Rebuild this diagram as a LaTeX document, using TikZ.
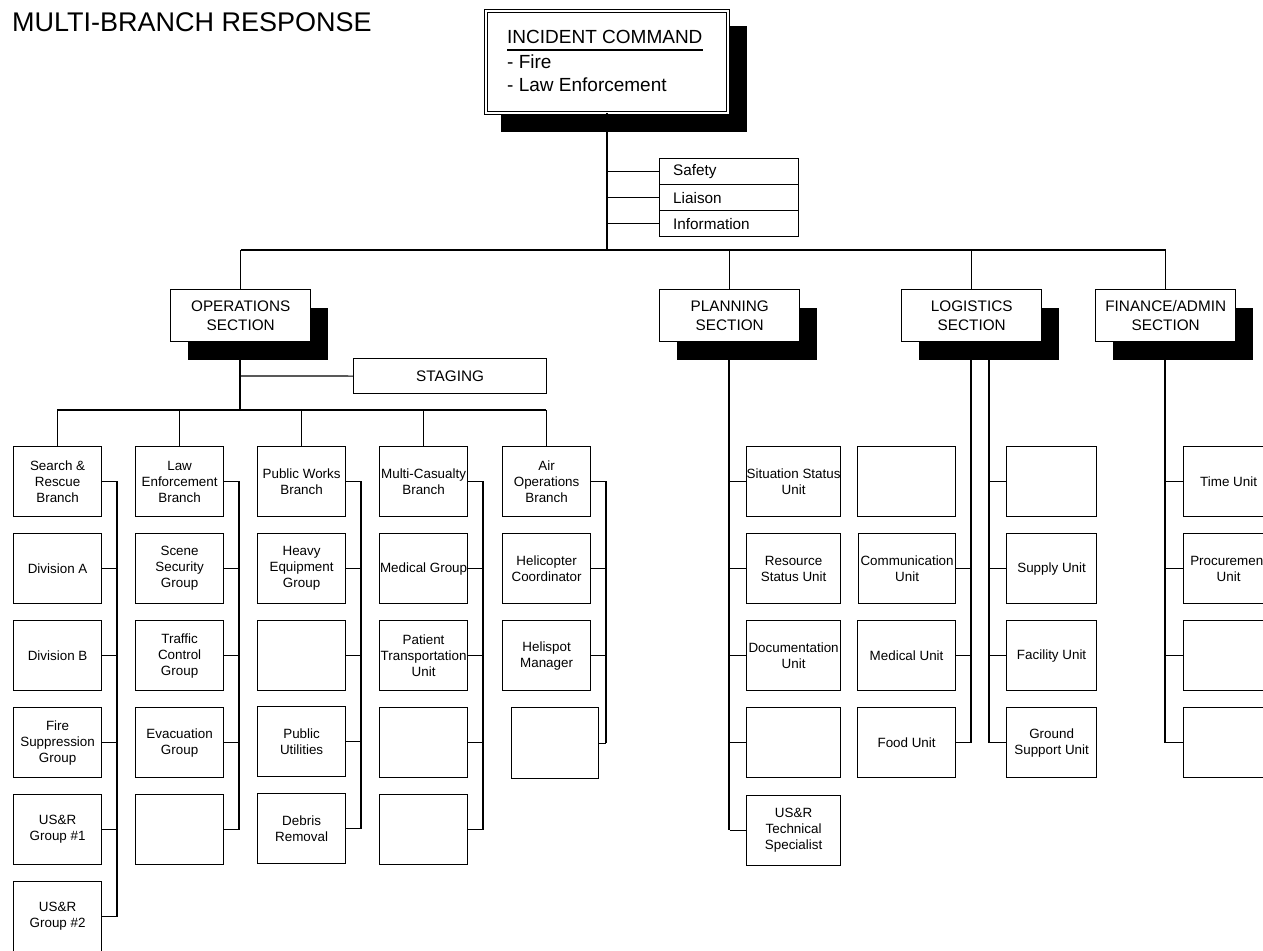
\documentclass[tikz,border=0pt]{standalone}
\usepackage{fontspec}
\setmainfont{Liberation Sans}
\usetikzlibrary{shadows}

% font sizes (1pt = 1 unit of the page)
\newcommand\fsbox{\fontsize{13.4pt}{16pt}\selectfont}
\newcommand\fssec{\fontsize{15.3pt}{19pt}\selectfont}
\newcommand\fsic{\fontsize{19pt}{23pt}\selectfont}
\newcommand\fstitle{\fontsize{27pt}{32pt}\selectfont}

\tikzset{
  thinline/.style={line width=1.2pt},
  thickline/.style={line width=2pt},
  unitbox/.style={draw, line width=1.2pt, fill=white, inner sep=0pt, anchor=north west},
  unittext/.style={font=\fsbox, align=center, inner sep=0pt},
  staffbox/.style={draw, line width=1.2pt, fill=white, inner sep=0pt, anchor=north west,
    minimum width=139pt, minimum height=26pt},
  stafftext/.style={font=\fssec, inner sep=0pt, anchor=west},
  sectionbox/.style={draw, line width=1.4pt, fill=white, inner sep=0pt, anchor=north west,
    minimum width=140pt, minimum height=52pt, align=center, font=\fssec,
    drop shadow={shadow xshift=17pt, shadow yshift=-18pt, opacity=1, fill=black}},
}

% box with a fixed size and centred text: name, left, top, width, height, text
\newcommand\orgbox[6]{%
  \node[unitbox, minimum width=#4pt, minimum height=#5pt] (#1) at (#2,#3) {};
  \node[unittext] (#1-t) at (#1.center) {#6};}

\begin{document}
\begin{tikzpicture}[x=1pt, y=-1pt]
\useasboundingbox (0,0) rectangle (1263,950);
\clip (0,0) rectangle (1263,950);

\node[anchor=base west, font=\fstitle, inner sep=0pt] (title) at (12,32) {MULTI-BRANCH RESPONSE};

% ---------- incident command ----------
\fill[black] (501,26) rectangle (747,132);
\node[draw, double, double distance=1.6pt, line width=0.9pt, fill=white, inner sep=0pt,
      anchor=north west, minimum width=242pt, minimum height=102pt] (ic) at (485.5,10.5) {};
\node[anchor=base west, font=\fsic, inner sep=0pt] (icHead) at (507,44) {INCIDENT COMMAND};
\draw[line width=1.2pt] ([yshift=-6pt]icHead.base west) -- ([yshift=-6pt]icHead.base east);
\node[anchor=base west, font=\fsic, inner sep=0pt] (icFire) at (507,68) {- Fire};
\node[anchor=base west, font=\fsic, inner sep=0pt] (icLaw) at (507,91) {- Law Enforcement};

% command staff
\node[staffbox] (safety) at (659,158) {};
\node[stafftext] (safety-t) at ([xshift=14pt]safety.west) {Safety};
\node[staffbox] (liaison) at (659,184) {};
\node[stafftext] (liaison-t) at ([xshift=14pt]liaison.west) {Liaison};
\node[staffbox] (info) at (659,210) {};
\node[stafftext] (info-t) at ([xshift=14pt]info.west) {Information};

\coordinate (bus) at (607,250);
\draw[thickline] (ic.south) -- (ic.south |- bus);
\draw[thinline] (ic.south |- safety.west) -- (safety.west);
\draw[thinline] (ic.south |- liaison.west) -- (liaison.west);
\draw[thinline] (ic.south |- info.west) -- (info.west);

% ---------- general staff sections ----------
\draw[thickline] (240,341) -- (240,410);
\draw[thickline] (729,341) -- (729,830);
\draw[thinline] (971,341) -- (971,743);
\draw[thickline] (989,341) -- (989,743);
\draw[thickline] (1165,341) -- (1165,743);

\node[sectionbox] (ops) at (170,289) {OPERATIONS\\SECTION};
\node[sectionbox] (plan) at (659,289) {PLANNING\\SECTION};
\node[sectionbox] (log) at (901,289) {LOGISTICS\\SECTION};
\node[sectionbox] (fin) at (1095,289) {FINANCE/ADMIN\\SECTION};

\draw[thinline] (ops.north |- bus) -- (fin.north |- bus);
\draw[thinline] (ops.north |- bus) -- (ops.north);
\draw[thinline] (plan.north |- bus) -- (plan.north);
\draw[thinline] (log.north |- bus) -- (log.north);
\draw[thinline] (fin.north |- bus) -- (fin.north);

% ---------- operations ----------
\node[draw, line width=1.2pt, fill=white, inner sep=0pt, anchor=north west,
      minimum width=193pt, minimum height=35pt, font=\fssec] (staging) at (353,358) {STAGING};
\coordinate (opsbusL) at (57,410);
\coordinate (opsbusR) at (546,410);
\draw[thinline] (240,376) -- (staging.west);
\draw[thickline] (opsbusL) -- (opsbusR);

% branch columns
\orgbox{sr}{13}{446}{88}{70}{Search \&\\Rescue\\Branch}
\orgbox{divA}{13}{533}{88}{70}{Division A}
\orgbox{divB}{13}{620}{88}{70}{Division B}
\orgbox{fireSup}{13}{707}{88}{70}{Fire\\Suppression\\Group}
\orgbox{usrA}{13}{794}{88}{70}{US\&R\\Group \#1}
\orgbox{usrB}{13}{881}{88}{70}{US\&R\\Group \#2}

\orgbox{law}{135}{446}{88}{70}{Law\\Enforcement\\Branch}
\orgbox{scene}{135}{533}{88}{70}{Scene\\Security\\Group}
\orgbox{traffic}{135}{620}{88}{70}{Traffic\\Control\\Group}
\orgbox{evac}{135}{707}{88}{70}{Evacuation\\Group}
\orgbox{lawE}{135}{794}{88}{70}{}

\orgbox{pw}{257}{446}{88}{70}{Public Works\\Branch}
\orgbox{heavy}{257}{533}{88}{70}{Heavy\\Equipment\\Group}
\orgbox{pwE}{257}{620}{88}{70}{}
\orgbox{util}{257}{706}{88}{70}{Public\\Utilities}
\orgbox{debris}{257}{793}{88}{70}{Debris\\Removal}

\orgbox{mc}{379}{446}{88}{70}{Multi-Casualty\\Branch}
\orgbox{medGrp}{379}{533}{88}{70}{Medical Group}
\orgbox{patient}{379}{620}{88}{70}{Patient\\Transportation\\Unit}
\orgbox{mcE}{379}{707}{88}{70}{}
\orgbox{mcF}{379}{794}{88}{70}{}

\orgbox{air}{502}{446}{88}{70}{Air\\Operations\\Branch}
\orgbox{heli}{502}{533}{88}{70}{Helicopter\\Coordinator}
\orgbox{helispot}{502}{620}{88}{70}{Helispot\\Manager}
\orgbox{airE}{511}{707}{87}{71}{}

\foreach \b in {sr,law,pw,mc,air}
  \draw[thinline] (\b.north |- opsbusL) -- (\b.north);

\coordinate (v1) at (117,481);
\coordinate (v2) at (239,481);
\coordinate (v3) at (361,481);
\coordinate (v4) at (483,481);
\coordinate (v5) at (606,481);
\draw[thickline] (v1) -- (v1 |- usrB.east);
\draw[thickline] (v2) -- (v2 |- lawE.east);
\draw[thickline] (v3) -- (v3 |- debris.east);
\draw[thickline] (v4) -- (v4 |- mcF.east);
\draw[thickline] (v5) -- (v5 |- airE.east);
\foreach \b in {sr,divA,divB,fireSup,usrA,usrB}
  \draw[thinline] (\b.east) -- (\b.east -| v1);
\foreach \b in {law,scene,traffic,evac,lawE}
  \draw[thinline] (\b.east) -- (\b.east -| v2);
\foreach \b in {pw,heavy,pwE,util,debris}
  \draw[thinline] (\b.east) -- (\b.east -| v3);
\foreach \b in {mc,medGrp,patient,mcE,mcF}
  \draw[thinline] (\b.east) -- (\b.east -| v4);
\foreach \b in {air,heli,helispot,airE}
  \draw[thinline] (\b.east) -- (\b.east -| v5);

% ---------- planning ----------
\orgbox{sitStat}{746}{446}{94}{70}{Situation Status\\Unit}
\orgbox{resStat}{746}{533}{94}{70}{Resource\\Status Unit}
\orgbox{docu}{746}{620}{94}{70}{Documentation\\Unit}
\orgbox{planE}{746}{707}{94}{70}{}
\orgbox{usrTech}{746}{795}{94}{70}{US\&R\\Technical\\Specialist}
\foreach \b in {sitStat,resStat,docu,planE,usrTech}
  \draw[thinline] (plan.south |- \b.west) -- (\b.west);

% ---------- logistics ----------
\coordinate (logR) at (989,341);
\orgbox{logE}{857}{446}{98}{70}{}
\orgbox{comm}{858}{533}{97}{70}{Communication\\Unit}
\orgbox{medUnit}{857}{620}{98}{70}{Medical Unit}
\orgbox{food}{857}{707}{98}{70}{Food Unit}
\foreach \b in {comm,medUnit,food}
  \draw[thinline] (\b.east) -- (\b.east -| log.south);

\orgbox{logF}{1006}{446}{90}{70}{}
\orgbox{supply}{1006}{533}{90}{70}{Supply Unit}
\orgbox{facility}{1006}{620}{90}{70}{Facility Unit}
\orgbox{ground}{1006}{707}{90}{70}{Ground\\Support Unit}
\foreach \b in {logF,supply,facility,ground}
  \draw[thinline] (logR |- \b.west) -- (\b.west);

% ---------- finance/admin ----------
\orgbox{timeU}{1183}{446}{90}{70}{Time Unit}
\orgbox{procure}{1183}{533}{90}{70}{Procurement\\Unit}
\orgbox{finE}{1183}{620}{90}{70}{}
\orgbox{finF}{1183}{707}{90}{70}{}
\foreach \b in {timeU,procure,finE,finF}
  \draw[thinline] (fin.south |- \b.west) -- (\b.west);

\end{tikzpicture}
\end{document}
